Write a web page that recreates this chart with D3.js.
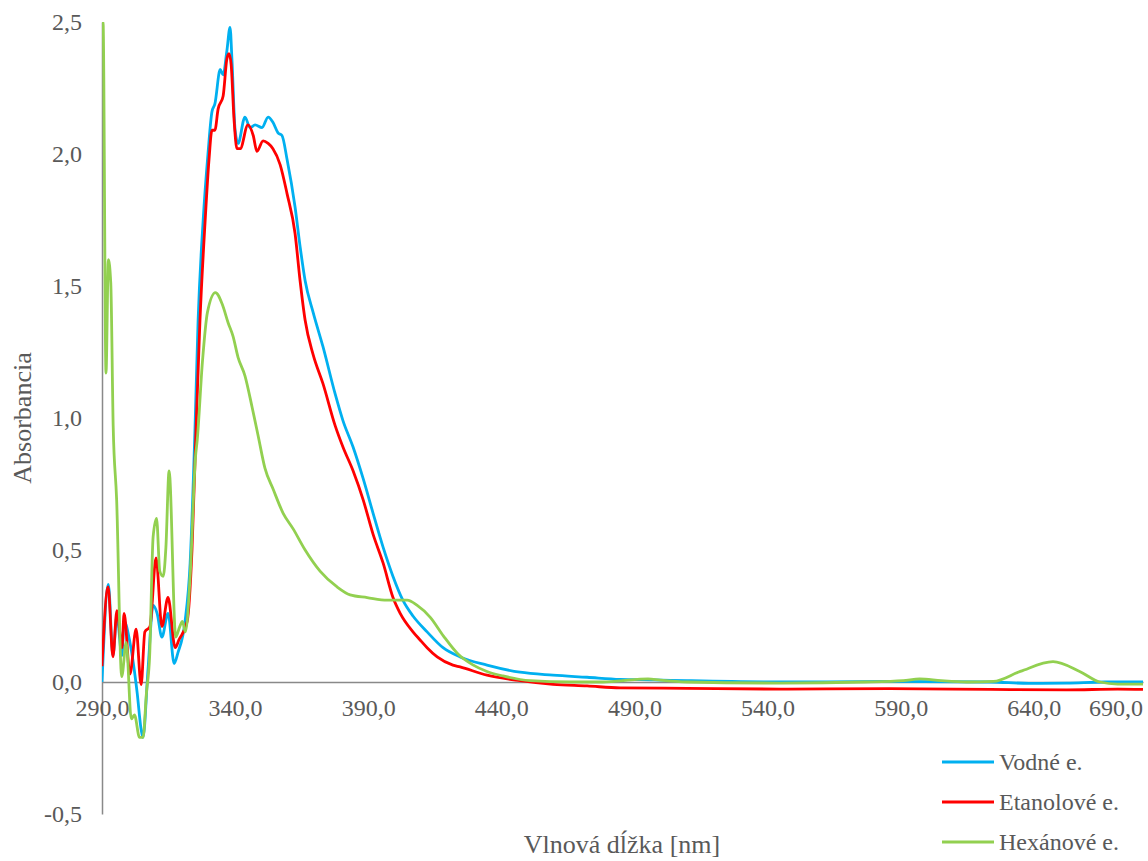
<!DOCTYPE html>
<html>
<head>
<meta charset="utf-8">
<script src="https://cdn.jsdelivr.net/npm/d3@7/dist/d3.min.js"></script>
<style>
  body { margin: 0; background: #fff; }
  svg text { font-family: "Liberation Serif", Tinos, "DejaVu Serif", "Noto Serif", serif; fill: #595959; }
</style>
</head>
<body>
<div class="chart"></div>
<script>
// Data
const xTicks = [290, 340, 390, 440, 490, 540, 590, 640, 690];
const yTicks = [-0.5, 0, 0.5, 1, 1.5, 2, 2.5];
const seriesNames = ["Vodné e.", "Etanolové e.", "Hexánové e."];
const seriesColors = ["#00B0F0", "#FF0000", "#92D050"];

const wlVodne = [290.0, 292.4, 294.1, 295.6, 297.5, 298.3, 300.5, 303.2, 304.7, 305.4, 307.3, 309.2, 310.7, 312.5, 314.8, 317.1, 318.5, 321.2, 323.1, 324.9,
  326.1, 328.0, 329.8, 331.3, 332.4, 334.4, 335.5, 336.9, 338.1, 338.8, 340.0, 341.1, 343.7, 345.6, 347.5, 350.1, 352.4, 354.2, 356.1, 357.6,
  359.5, 362.5, 364.4, 366.3, 369.3, 373.0, 377.6, 380.5, 384.3, 388.1, 391.8, 395.6, 399.3, 403.0, 406.8, 412.1, 418.1, 424.5, 434.6, 447.0,
  459.4, 472.2, 484.6, 497.0, 509.8, 544.7, 585.7, 623.8, 638.1, 652.4, 666.8, 681.0];
const absVodne = [0.00, 0.37, 0.10, 0.25, 0.10, 0.23, 0.15, -0.04, -0.18, -0.21, 0.05, 0.29, 0.26, 0.17, 0.26, 0.07, 0.11, 0.23, 0.45, 0.95,
  1.37, 1.75, 2.00, 2.16, 2.19, 2.32, 2.30, 2.39, 2.48, 2.36, 2.09, 2.04, 2.14, 2.10, 2.11, 2.10, 2.14, 2.12, 2.08, 2.07,
  1.98, 1.80, 1.65, 1.52, 1.40, 1.27, 1.09, 0.99, 0.89, 0.77, 0.64, 0.51, 0.40, 0.31, 0.25, 0.19, 0.13, 0.095, 0.064, 0.037,
  0.026, 0.018, 0.010, 0.008, 0.005, 0.0, 0.002, 0.0, -0.005, -0.004, 0.0, 0.0];

const wlEtanol = [290.0, 292.3, 294.1, 295.6, 297.5, 298.3, 300.5, 302.8, 304.7, 306.1, 308.0, 310.3, 312.5, 314.8, 317.5, 318.9, 322.0, 323.8, 325.3, 326.8,
  328.7, 330.2, 331.3, 332.4, 333.6, 335.5, 336.9, 337.7, 338.5, 339.6, 340.7, 341.9, 344.8, 346.8, 348.2, 350.5, 352.4, 354.2, 356.9, 359.5,
  362.5, 364.4, 366.3, 369.3, 373.0, 377.6, 380.5, 384.3, 388.1, 391.8, 395.6, 399.3, 402.0, 406.8, 409.4, 412.1, 415.9, 421.8, 424.5, 434.6,
  447.0, 459.4, 472.2, 484.6, 509.8, 544.7, 585.7, 623.8, 652.4, 671.5, 681.0];
const absEtanol = [0.06, 0.36, 0.095, 0.27, 0.13, 0.26, 0.03, 0.20, -0.01, 0.19, 0.21, 0.47, 0.21, 0.32, 0.13, 0.16, 0.23, 0.50, 0.95, 1.37,
  1.74, 1.98, 2.09, 2.09, 2.17, 2.22, 2.36, 2.38, 2.34, 2.13, 2.02, 2.02, 2.11, 2.07, 2.01, 2.05, 2.04, 2.02, 1.96, 1.85,
  1.70, 1.52, 1.37, 1.24, 1.13, 0.97, 0.89, 0.80, 0.69, 0.56, 0.45, 0.32, 0.26, 0.19, 0.16, 0.13, 0.095, 0.064, 0.057, 0.026,
  0.005, -0.009, -0.015, -0.022, -0.024, -0.027, -0.025, -0.028, -0.030, -0.027, -0.028];

const wlHexan = [290.0, 290.4, 291.5, 292.4, 293.3, 294.2, 295.5, 297.4, 299.1, 301.0, 302.2, 304.1, 305.4, 306.7, 307.9, 309.2, 310.5, 311.7, 313.0, 314.0,
  315.2, 317.7, 319.2, 320.2, 321.3, 323.1, 325.1, 325.8, 327.7, 329.6, 332.6, 335.2, 337.4, 339.2, 341.1, 343.7, 346.4, 348.7, 351.2, 354.3,
  358.0, 361.8, 366.3, 371.9, 378.3, 383.2, 389.6, 397.1, 404.6, 408.4, 413.3, 418.2, 423.8, 429.3, 434.6, 440.6, 450.8, 465.8, 478.2, 491.0,
  495.1, 499.8, 509.8, 544.7, 576.6, 590.9, 597.1, 605.2, 615.0, 624.8, 634.9, 647.2, 657.2, 664.8, 671.5, 681.0];
const absHexan = [2.50, 2.50, 1.17, 1.60, 1.51, 0.97, 0.69, 0.02, 0.15, -0.14, -0.125, -0.21, -0.21, -0.04, 0.10, 0.55, 0.62, 0.42, 0.40, 0.51,
  0.80, 0.17, 0.21, 0.23, 0.19, 0.40, 0.85, 0.92, 1.21, 1.40, 1.475, 1.43, 1.36, 1.31, 1.23, 1.16, 1.04, 0.93, 0.81, 0.73,
  0.64, 0.58, 0.50, 0.42, 0.36, 0.33, 0.32, 0.31, 0.31, 0.29, 0.245, 0.175, 0.105, 0.065, 0.04, 0.023, 0.005, 0.0, 0.0, 0.01,
  0.012, 0.007, 0.0, -0.004, 0.0, 0.005, 0.012, 0.005, 0.0, 0.002, 0.04, 0.077, 0.04, 0.0, -0.008, -0.008];

const seriesWl = [wlVodne, wlEtanol, wlHexan];
const seriesAbs = [absVodne, absEtanol, absHexan];

const width = 1148, height = 861;
const plot = {left: 102, right: 1143, top: 22, bottom: 814};
const fontStack = '"Liberation Serif", Tinos, "DejaVu Serif", "Noto Serif", serif';

const svg = d3.select('.chart')
              .append('svg')
              .attr('width', width)
              .attr('height', height)
              .attr('font-family', fontStack);

const x = d3.scaleLinear().domain([290, 681]).range([plot.left, plot.right]);
const y = d3.scaleLinear().domain([-0.5, 2.5]).range([plot.bottom, plot.top]);
const fmt = v => v.toFixed(1).replace('.', ',');

// axes
const yAxis = svg.append('g')
   .attr('transform', `translate(${x(290)},0)`)
   .call(d3.axisLeft(y).tickValues(yTicks).tickSize(0).tickPadding(20).tickFormat(fmt));
const xAxis = svg.append('g')
   .attr('transform', `translate(0,${y(0)})`)
   .call(d3.axisBottom(x).tickValues(xTicks).tickSize(0).tickPadding(17).tickFormat(fmt));

[yAxis, xAxis].forEach(g => {
  g.attr('font-family', fontStack);
  g.select('.domain').attr('stroke', '#898989').attr('stroke-width', 1.5);
  g.selectAll('text').attr('font-size', 24).attr('fill', '#595959');
});

// last label (690,0) does not fit, pull it inside the chart like the original
xAxis.selectAll('.tick')
   .filter(d => x(d) > plot.right)
   .attr('transform', `translate(${plot.right},0)`)
   .select('text')
   .attr('text-anchor', 'end');

// axis titles
svg.append('text')
   .attr('transform', `translate(31,${(plot.top + plot.bottom) / 2}) rotate(-90)`)
   .attr('text-anchor', 'middle')
   .attr('font-size', 26)
   .text('Absorbancia');
svg.append('text')
   .attr('x', 622)
   .attr('y', 853)
   .attr('text-anchor', 'middle')
   .attr('font-size', 26)
   .text('Vlnová dĺžka [nm]');

// lines
svg.append('clipPath').attr('id', 'clip')
   .append('rect')
   .attr('x', plot.left).attr('y', plot.top)
   .attr('width', plot.right - plot.left).attr('height', plot.bottom - plot.top);

const line = d3.line()
   .curve(d3.curveMonotoneX)
   .x(d => x(d[0]))
   .y(d => y(d[1]));

svg.append('g')
   .attr('clip-path', 'url(#clip)')
   .selectAll('path')
   .data(seriesNames.map((n, i) => d3.zip(seriesWl[i], seriesAbs[i])))
   .enter()
   .append('path')
   .attr('d', line)
   .attr('fill', 'none')
   .attr('stroke', (d, i) => seriesColors[i])
   .attr('stroke-width', 2.8)
   .attr('stroke-linejoin', 'round');

// legend
const legend = svg.append('g')
   .selectAll('g')
   .data(seriesNames)
   .enter()
   .append('g')
   .attr('transform', (d, i) => `translate(942,${762 + i * 40})`);
legend.append('line')
   .attr('x1', 0).attr('x2', 52)
   .attr('stroke', (d, i) => seriesColors[i])
   .attr('stroke-width', 2.8);
legend.append('text')
   .attr('x', 57)
   .attr('dy', '0.35em')
   .attr('font-size', 24)
   .text(d => d);
</script>
</body>
</html>
